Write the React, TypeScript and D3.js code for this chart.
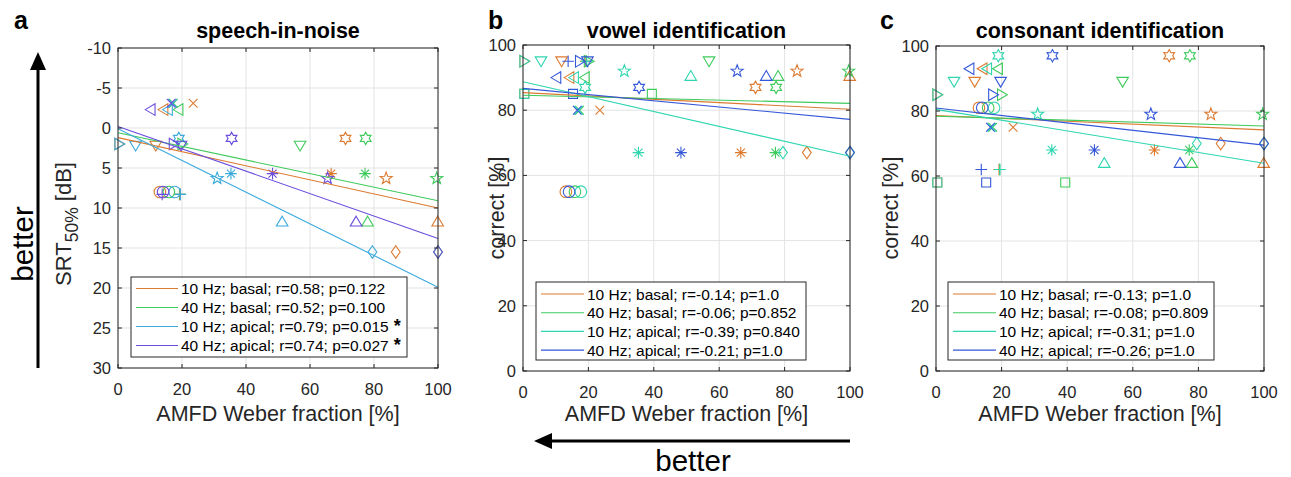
import React from 'react';
import * as d3 from 'd3';

// ---------- data ----------
const subjectMarkers = ['o', '+', '*', 'x', 's', 'd', '^', 'v', '>', '<', 'p', 'h'];
// AMFD Weber fraction [%] per subject, per condition
const xBasal10 = [13.1, 19.2, 66.6, 23.5, 0.4, 86.8, 99.9, 11.8, 0.4, 14.2, 83.8, 71.1];
const xBasal40 = [15.9, 19.4, 77.2, 17.3, 39.4, 100, 78.0, 56.9, 20.1, 18.9, 99.6, 77.4];
const xApical10 = [17.7, 19.5, 35.3, 17.0, 0.4, 79.5, 51.3, 5.5, 0.4, 15.6, 31.0, 19.0];
const xApical40 = [14.1, 13.8, 48.3, 16.6, 15.3, 100, 74.4, 19.7, 17.4, 10.2, 65.5, 35.5];
// outcome per subject
const srtValues = [8.0, 8.3, 5.7, -3.1, NaN, 15.5, 11.7, 2.2, 2.0, -2.3, 6.3, 1.3];
const vowelValues = [55, 95, 67, 80, 85, 67, 90.5, 95, 95, 90, 92, 87];
const consonantValues = [81, 62, 68, 75, 58, 70, 64, 89, 85, 93, 79, 97];

const conditionNames = ['10 Hz; basal', '40 Hz; basal', '10 Hz; apical', '40 Hz; apical'];
// fitted regression lines: value at 0 % and at 100 %
const fitSrt = [[1.2, 10.0], [0.6, 9.1], [0.1, 19.9], [-0.2, 13.8]];
const fitVowel = [[85.4, 80.3], [84.6, 82.1], [88.7, 65.9], [86.7, 77.2]];
const fitConsonant = [[78.6, 74.2], [78.4, 75.4], [80.5, 63.9], [80.9, 69.5]];
const rSrt = ['0.58', '0.52', '0.79', '0.74'];
const pSrt = ['0.122', '0.100', '0.015', '0.027'];
const sigSrt = [false, false, true, true];
const rVowel = ['-0.14', '-0.06', '-0.39', '-0.21'];
const pVowel = ['1.0', '0.852', '0.840', '1.0'];
const rConsonant = ['-0.13', '-0.08', '-0.31', '-0.26'];
const pConsonant = ['1.0', '0.809', '1.0', '1.0'];

const xTicks = [0, 20, 40, 60, 80, 100];
const srtTicks = [-10, -5, 0, 5, 10, 15, 20, 25, 30];
const pctTicks = [0, 20, 40, 60, 80, 100];

// ---------- styles ----------
const FONT = 'Liberation Sans, Arial, Helvetica, sans-serif';
const AX = '#262626';
const GRID = '#e3e3e3';
const colorsA = ['#dc7a30', '#3fca5c', '#3aaadc', '#6a4cdc'];
const colorsBC = ['#dc7a30', '#3fca5c', '#2fd6b0', '#3558d8'];

const xByCond = [xBasal10, xBasal40, xApical10, xApical40];

function markerPath(m: string): string {
  const p = d3.path();
  const r = 5.8;
  switch (m) {
    case 'o':
      p.moveTo(r, 0);
      p.arc(0, 0, r, 0, Math.PI * 2);
      break;
    case '+':
      p.moveTo(-r, 0); p.lineTo(r, 0); p.moveTo(0, -r); p.lineTo(0, r);
      break;
    case 'x': {
      const a = r * 0.75;
      p.moveTo(-a, -a); p.lineTo(a, a); p.moveTo(-a, a); p.lineTo(a, -a);
      break;
    }
    case '*': {
      const a = r * 0.7;
      p.moveTo(-r, 0); p.lineTo(r, 0); p.moveTo(0, -r); p.lineTo(0, r);
      p.moveTo(-a, -a); p.lineTo(a, a); p.moveTo(-a, a); p.lineTo(a, -a);
      break;
    }
    case 's': {
      const a = 4.5;
      p.rect(-a, -a, 2 * a, 2 * a);
      break;
    }
    case 'd':
      p.moveTo(0, -6.2); p.lineTo(4.4, 0); p.lineTo(0, 6.2); p.lineTo(-4.4, 0); p.closePath();
      break;
    case '^':
      p.moveTo(0, -5.4); p.lineTo(5.8, 4.4); p.lineTo(-5.8, 4.4); p.closePath();
      break;
    case 'v':
      p.moveTo(0, 5.4); p.lineTo(5.8, -4.4); p.lineTo(-5.8, -4.4); p.closePath();
      break;
    case '>':
      p.moveTo(5.4, 0); p.lineTo(-4.4, -5.8); p.lineTo(-4.4, 5.8); p.closePath();
      break;
    case '<':
      p.moveTo(-5.4, 0); p.lineTo(4.4, -5.8); p.lineTo(4.4, 5.8); p.closePath();
      break;
    case 'p': {
      const ro = 6.3, ri = 2.6;
      for (let i = 0; i < 10; i++) {
        const ang = -Math.PI / 2 + (i * Math.PI) / 5;
        const rr = i % 2 === 0 ? ro : ri;
        const x = rr * Math.cos(ang), y = rr * Math.sin(ang);
        if (i === 0) p.moveTo(x, y); else p.lineTo(x, y);
      }
      p.closePath();
      break;
    }
    case 'h': {
      const ro = 6.2, ri = 3.5;
      for (let i = 0; i < 12; i++) {
        const ang = -Math.PI / 2 + (i * Math.PI) / 6;
        const rr = i % 2 === 0 ? ro : ri;
        const x = rr * Math.cos(ang), y = rr * Math.sin(ang);
        if (i === 0) p.moveTo(x, y); else p.lineTo(x, y);
      }
      p.closePath();
      break;
    }
  }
  return p.toString();
}

type PanelProps = {
  left: number; right: number; top: number; bottom: number;
  yDomain: [number, number]; yTicks: number[];
  values: number[]; fits: number[][]; colors: string[];
  rs: string[]; ps: string[]; sig?: boolean[];
  title: string;
  legend: { x: number; y: number; w: number; h: number; row: number; first: number; lineW: number };
};

function Panel(props: PanelProps) {
  const { left, right, top, bottom, yDomain, yTicks, values, fits, colors, rs, ps, sig, title, legend } = props;
  const xs = d3.scaleLinear().domain([0, 100]).range([left, right]);
  const ys = d3.scaleLinear().domain(yDomain).range([top, bottom]);
  const tl = 4;
  return (
    <g>
      <rect x={left} y={top} width={right - left} height={bottom - top} fill="#fff" />
      {xTicks.map((t) => (
        <line key={'gx' + t} x1={xs(t)} x2={xs(t)} y1={top} y2={bottom} stroke={GRID} strokeWidth={1} />
      ))}
      {yTicks.map((t) => (
        <line key={'gy' + t} x1={left} x2={right} y1={ys(t)} y2={ys(t)} stroke={GRID} strokeWidth={1} />
      ))}
      {/* markers */}
      {xByCond.map((xarr, ci) => (
        <g key={'m' + ci} stroke={colors[ci]} fill="none" strokeWidth={1.1}>
          {xarr.map((xv, si) => {
            const yv = values[si];
            if (yv === undefined || isNaN(yv)) return null;
            return (
              <path key={si} d={markerPath(subjectMarkers[si])}
                transform={`translate(${xs(xv)},${ys(yv)})`} />
            );
          })}
        </g>
      ))}
      {/* fit lines */}
      {fits.map((f, ci) => (
        <line key={'f' + ci} x1={xs(0)} x2={xs(100)} y1={ys(f[0])} y2={ys(f[1])}
          stroke={colors[ci]} strokeWidth={1.1} />
      ))}
      {/* box */}
      <rect x={left} y={top} width={right - left} height={bottom - top} fill="none" stroke={AX} strokeWidth={1} />
      {xTicks.map((t) => (
        <g key={'tx' + t}>
          <line x1={xs(t)} x2={xs(t)} y1={bottom} y2={bottom - tl} stroke={AX} />
          <line x1={xs(t)} x2={xs(t)} y1={top} y2={top + tl} stroke={AX} />
          <text x={xs(t)} y={bottom + 27} textAnchor="middle" fontSize={16.5} fill={AX} fontFamily={FONT}>{t}</text>
        </g>
      ))}
      {yTicks.map((t) => (
        <g key={'ty' + t}>
          <line x1={left} x2={left + tl} y1={ys(t)} y2={ys(t)} stroke={AX} />
          <line x1={right} x2={right - tl} y1={ys(t)} y2={ys(t)} stroke={AX} />
          <text x={left - 7} y={ys(t) + 6} textAnchor="end" fontSize={16.5} fill={AX} fontFamily={FONT}>{t}</text>
        </g>
      ))}
      <text x={(left + right) / 2} y={38} textAnchor="middle" fontSize={21.5} fontWeight="bold" fill="#000" fontFamily={FONT}>{title}</text>
      <text x={(left + right) / 2} y={421} textAnchor="middle" fontSize={21.5} fill={AX} fontFamily={FONT}>AMFD Weber fraction [%]</text>
      {/* legend */}
      <rect x={legend.x} y={legend.y} width={legend.w} height={legend.h} fill="#fff" stroke={AX} strokeWidth={1} />
      {conditionNames.map((n, ci) => {
        const cy = legend.y + legend.first + ci * legend.row;
        return (
          <g key={'l' + ci}>
            <line x1={legend.x + 5} x2={legend.x + 5 + legend.lineW} y1={cy} y2={cy} stroke={colors[ci]} strokeWidth={1.1} />
            <text x={legend.x + 8 + legend.lineW} y={cy + 5.5} fontSize={15.5} fill="#000" fontFamily={FONT}>
              {`${n}; r=${rs[ci]}; p=${ps[ci]}`}
              {sig && sig[ci] ? <tspan fontWeight="bold" fontSize={18} dx={5}>*</tspan> : null}
            </text>
          </g>
        );
      })}
    </g>
  );
}

export default function App() {
  return (
    <svg width={1291} height={477} style={{ display: 'block', position: 'absolute', left: 0, top: 0 }} fontFamily={FONT}>
      <rect width={1291} height={477} fill="#fff" />
      <Panel left={118} right={438} top={48} bottom={368} yDomain={[-10, 30]} yTicks={srtTicks}
        values={srtValues} fits={fitSrt} colors={colorsA} rs={rSrt} ps={pSrt} sig={sigSrt}
        title="speech-in-noise"
        legend={{ x: 131, y: 277, w: 276, h: 80, row: 19, first: 11.5, lineW: 42 }} />
      <Panel left={523} right={850} top={45} bottom={371} yDomain={[100, 0]} yTicks={pctTicks}
        values={vowelValues} fits={fitVowel} colors={colorsBC} rs={rVowel} ps={pVowel}
        title="vowel identification"
        legend={{ x: 536, y: 282, w: 270, h: 78, row: 18.7, first: 12, lineW: 43 }} />
      <Panel left={936} right={1264} top={46} bottom={371} yDomain={[100, 0]} yTicks={pctTicks}
        values={consonantValues} fits={fitConsonant} colors={colorsBC} rs={rConsonant} ps={pConsonant}
        title="consonant identification"
        legend={{ x: 948, y: 282, w: 266, h: 78, row: 18.7, first: 12, lineW: 43 }} />

      {/* y labels */}
      <text transform="translate(71,224) rotate(-90)" textAnchor="middle" fontSize={22} fill={AX} fontFamily={FONT}>
        SRT<tspan fontSize={17.5} dy={7}>50%</tspan><tspan dy={-7}>{'  [dB]'}</tspan>
      </text>
      <text transform="translate(504,208) rotate(-90)" textAnchor="middle" fontSize={21.5} fill={AX} fontFamily={FONT}>correct [%]</text>
      <text transform="translate(898,208) rotate(-90)" textAnchor="middle" fontSize={21.5} fill={AX} fontFamily={FONT}>correct [%]</text>

      {/* panel letters */}
      <text x={14} y={29} fontSize={25} fontWeight="bold" fill="#000" fontFamily={FONT}>a</text>
      <text x={488} y={29} fontSize={25} fontWeight="bold" fill="#000" fontFamily={FONT}>b</text>
      <text x={880} y={29} fontSize={25} fontWeight="bold" fill="#000" fontFamily={FONT}>c</text>

      {/* better arrows */}
      <line x1={38} x2={38} y1={368} y2={66} stroke="#000" strokeWidth={3} />
      <path d="M38,52 L30,70 L46,70 Z" fill="#000" />
      <text transform="translate(33,244) rotate(-90)" textAnchor="middle" fontSize={29.5} fill="#000" fontFamily={FONT}>better</text>

      <line x1={850} x2={549} y1={441} y2={441} stroke="#000" strokeWidth={3} />
      <path d="M534,441 L552,433 L552,449 Z" fill="#000" />
      <text x={693} y={471} textAnchor="middle" fontSize={29.5} fill="#000" fontFamily={FONT}>better</text>
    </svg>
  );
}
